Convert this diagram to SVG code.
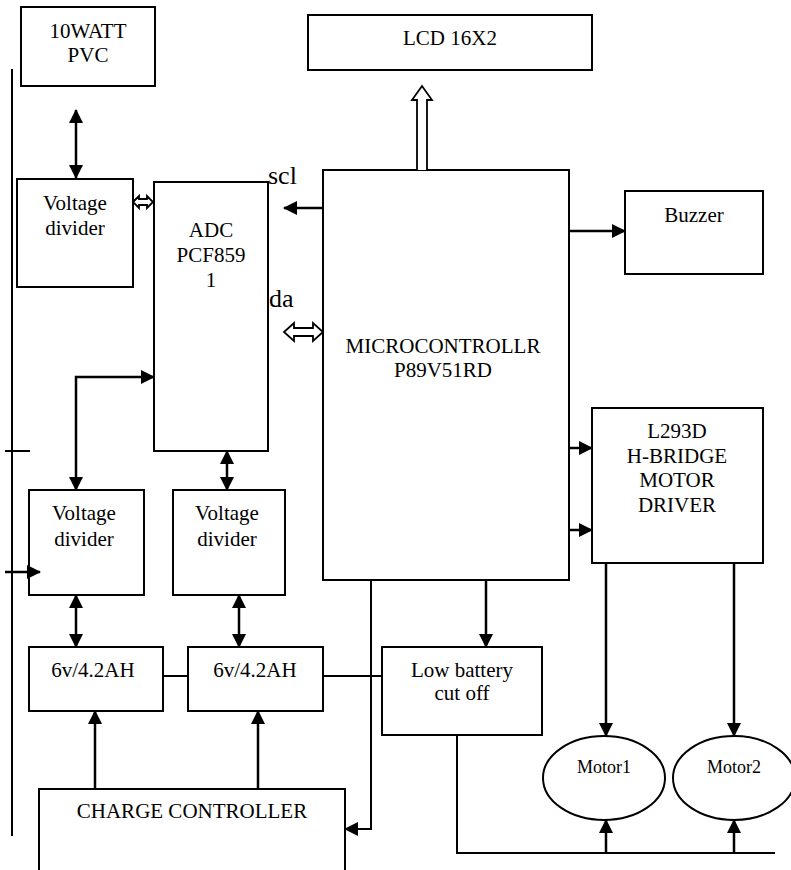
<svg xmlns="http://www.w3.org/2000/svg" width="791" height="870" viewBox="0 0 791 870">
<style>
.box{fill:#fff;stroke:#000;stroke-width:2}
.t{font-family:"Liberation Serif","Times New Roman",serif;font-size:21px;fill:#000;text-anchor:middle}
.m{font-size:18px}
.lbl{font-family:"Liberation Serif","Times New Roman",serif;font-size:26px;fill:#000}
.w{fill:none;stroke:#000;stroke-width:2}
.a{fill:none;stroke:#000;stroke-width:2.5}
.arr{marker-end:url(#ah)}
.bi{marker-start:url(#ah);marker-end:url(#ah)}
.hol{fill:#fff;stroke:#000;stroke-width:1.8;stroke-linejoin:miter}
</style>
<defs>
<marker id="ah" markerUnits="userSpaceOnUse" markerWidth="14" markerHeight="14" refX="13" refY="7" orient="auto-start-reverse">
<path d="M0,0 L14,7 L0,14 z" fill="#000"/>
</marker>
</defs>
<rect width="791" height="870" fill="#fff"/>

<g id="label-sda"><text class="lbl" x="259" y="307">sda</text></g>

<g id="pvc"><rect class="box" x="21" y="7" width="134" height="79"/><text class="t" x="88" y="38">10WATT</text><text class="t" x="88" y="62">PVC</text></g>
<g id="lcd"><rect class="box" x="308" y="15" width="284" height="55"/><text class="t" x="450" y="45">LCD 16X2</text></g>
<g id="vd-top"><rect class="box" x="17" y="179" width="116" height="108"/><text class="t" x="75" y="210">Voltage</text><text class="t" x="75" y="235">divider</text></g>
<g id="adc"><rect class="box" x="154" y="182" width="114" height="269"/><text class="t" x="211" y="237">ADC</text><text class="t" x="211" y="262">PCF859</text><text class="t" x="211" y="287">1</text></g>
<g id="label-scl"><text class="lbl" x="268" y="184">scl</text></g>
<g id="micro"><rect class="box" x="323" y="170" width="246" height="410"/><text class="t" x="443" y="353">MICROCONTROLLR</text><text class="t" x="443" y="377">P89V51RD</text></g>
<g id="buzzer"><rect class="box" x="625" y="191" width="138" height="83"/><text class="t" x="694" y="222">Buzzer</text></g>
<g id="l293d"><rect class="box" x="592" y="408" width="171" height="155"/><text class="t" x="677" y="438">L293D</text><text class="t" x="677" y="463">H-BRIDGE</text><text class="t" x="677" y="487">MOTOR</text><text class="t" x="677" y="512">DRIVER</text></g>
<g id="vd-left"><rect class="box" x="29" y="490" width="115" height="105"/><text class="t" x="84" y="520">Voltage</text><text class="t" x="84" y="546">divider</text></g>
<g id="vd-right"><rect class="box" x="173" y="490" width="112" height="105"/><text class="t" x="227" y="520">Voltage</text><text class="t" x="227" y="546">divider</text></g>
<g id="bat-left"><rect class="box" x="29" y="647" width="134" height="64"/><text class="t" x="93" y="677">6v/4.2AH</text></g>
<g id="bat-right"><rect class="box" x="188" y="647" width="135" height="64"/><text class="t" x="255" y="677">6v/4.2AH</text></g>
<g id="lowbat"><rect class="box" x="382" y="647" width="160" height="88"/><text class="t" x="462" y="677">Low battery</text><text class="t" x="462" y="700">cut off</text></g>
<g id="charge"><rect class="box" x="39" y="789" width="306" height="100"/><text class="t" x="192" y="818">CHARGE CONTROLLER</text></g>
<g id="motor1"><ellipse class="box" cx="604" cy="778" rx="61" ry="42"/><text class="t m" x="604" y="773">Motor1</text></g>
<g id="motor2"><ellipse class="box" cx="734" cy="778" rx="61" ry="42"/><text class="t m" x="734" y="773">Motor2</text></g>

<g id="connectors">
<path class="w" d="M12,69 V836"/>
<path class="w" d="M5,451 H30"/>
<path class="a arr" d="M5,572 H40"/>
<path class="a bi" d="M76,110 V178"/>
<path class="hol" d="M133,202 L139,196 L139,199 L147,199 L147,196 L153,202 L147,208 L147,205 L139,205 L139,208 Z"/>
<path class="hol" d="M284,332 L294,323 L294,328 L313,328 L313,323 L323,332 L313,341 L313,336 L294,336 L294,341 Z"/>
<path class="hol" d="M417,170 V100 H412 L422,86 L432,100 H427 V170"/>
<path class="a arr" d="M323,208 H284"/>
<path class="a arr" d="M569,231 H625"/>
<path class="a arr" d="M569,448 H592"/>
<path class="a arr" d="M569,530 H592"/>
<path class="a bi" d="M154,377 H76 V490"/>
<path class="a bi" d="M227,451 V490"/>
<path class="a bi" d="M76,595 V647"/>
<path class="a bi" d="M239,595 V647"/>
<path class="a arr" d="M95,789 V711"/>
<path class="a arr" d="M258,789 V711"/>
<path class="w" d="M163,676 H188"/>
<path class="w" d="M323,676 H382"/>
<path class="w arr" d="M371,580 V829 H345"/>
<path class="a arr" d="M486,580 V647"/>
<path class="a arr" d="M606,563 V736"/>
<path class="a arr" d="M734,563 V736"/>
<path class="w" d="M457,735 V853 H775"/>
<path class="a arr" d="M606,853 V820"/>
<path class="a arr" d="M734,853 V820"/>
</g>
</svg>
